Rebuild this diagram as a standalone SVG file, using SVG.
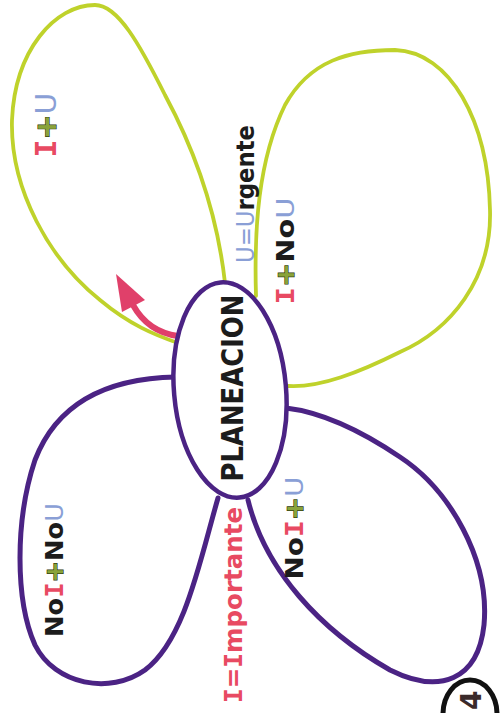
<svg xmlns="http://www.w3.org/2000/svg" width="503" height="713" viewBox="0 0 503 713">
<style>
.yel{fill:none;stroke:#bfd22b;stroke-width:3.8;stroke-linecap:round}
.pur{fill:none;stroke:#4b2384;stroke-width:5;stroke-linecap:round}
.lbl{font-family:"DejaVu Sans",sans-serif;font-weight:bold;text-anchor:middle;fill:#1c1c1c}
.i{fill:#e84a62;font-family:"DejaVu Sans Mono",monospace}
.u{fill:#8a9fd6;font-weight:normal}
.p{fill:#8aa33a;stroke:#2f3a10;stroke-width:1.2;paint-order:stroke}
.red{fill:#e84a62}
</style>
<rect width="503" height="713" fill="#ffffff"/>
<g id="petal-tl">
<path class="yel" d="M225,283 C218,220 200,160 165,95 C140,45 118,5 95,5 C55,5 15,50 12,120 C10,190 50,260 100,300 C130,325 155,335 178,343"/>
<text class="lbl" font-size="28" textLength="65" lengthAdjust="spacingAndGlyphs" transform="translate(56,125) rotate(-90)"><tspan class="i">I</tspan><tspan class="p">+</tspan><tspan class="u">U</tspan></text>
</g>
<g id="petal-tr">
<path class="yel" d="M256,296 C254,230 258,160 285,105 C310,60 350,50 395,50 C450,52 488,120 490,210 C492,280 450,330 400,352 C360,372 320,388 288,386"/>
<text class="lbl" font-size="25" textLength="107" lengthAdjust="spacingAndGlyphs" transform="translate(294,251) rotate(-90)"><tspan class="i">I</tspan><tspan class="p">+</tspan>No<tspan class="u">U</tspan></text>
</g>
<g id="petal-bl">
<path class="pur" d="M176,377 C120,378 60,395 35,460 C15,520 15,600 35,645 C55,685 110,695 145,670 C185,640 200,560 218,498"/>
<text class="lbl" font-size="24" textLength="134" lengthAdjust="spacingAndGlyphs" transform="translate(63,570) rotate(-90)">No<tspan class="i">I</tspan><tspan class="p">+</tspan>No<tspan class="u">U</tspan></text>
</g>
<g id="petal-br">
<path class="pur" d="M248,500 C265,570 320,630 390,670 C440,695 478,680 484,625 C490,560 450,490 400,457 C360,430 320,412 286,408"/>
<text class="lbl" font-size="24" textLength="103" lengthAdjust="spacingAndGlyphs" transform="translate(303,528) rotate(-90)">No<tspan class="i">I</tspan><tspan class="p">+</tspan><tspan class="u">U</tspan></text>
</g>
<g id="legend-u">
<text class="lbl" font-size="25" textLength="138" lengthAdjust="spacingAndGlyphs" transform="translate(254,194) rotate(-90)"><tspan class="u">U=U</tspan>rgente</text>
</g>
<g id="legend-i">
<text class="lbl red" font-size="25" textLength="196" lengthAdjust="spacingAndGlyphs" transform="translate(242,605) rotate(-90)"><tspan class="i">I</tspan>=<tspan class="i">I</tspan>mportante</text>
</g>
<g id="connectors">
<path d="M178,336 Q148,332 133,305" fill="none" stroke="#e0406a" stroke-width="6" stroke-linecap="round"/>
<polygon points="116,274 145,300 122,312" fill="#e0406a"/>
</g>
<g id="planeacion">
<ellipse cx="230" cy="390" rx="56" ry="108" transform="rotate(-5 230 390)" fill="#ffffff" stroke="#4b2384" stroke-width="4.5"/>
<text class="lbl" font-size="30" fill="#2b1d1d" textLength="187" lengthAdjust="spacingAndGlyphs" transform="translate(243,388) rotate(-90)">PLANEACION</text>
</g>
<g id="page-number">
<path d="M443,714 A27 34 0 0 1 497,714" fill="none" stroke="#111111" stroke-width="5"/>
<text font-family="DejaVu Sans,sans-serif" font-weight="bold" font-size="28" fill="#3a2a2a" transform="translate(481,710) rotate(-90)">4</text>
</g>
</svg>
